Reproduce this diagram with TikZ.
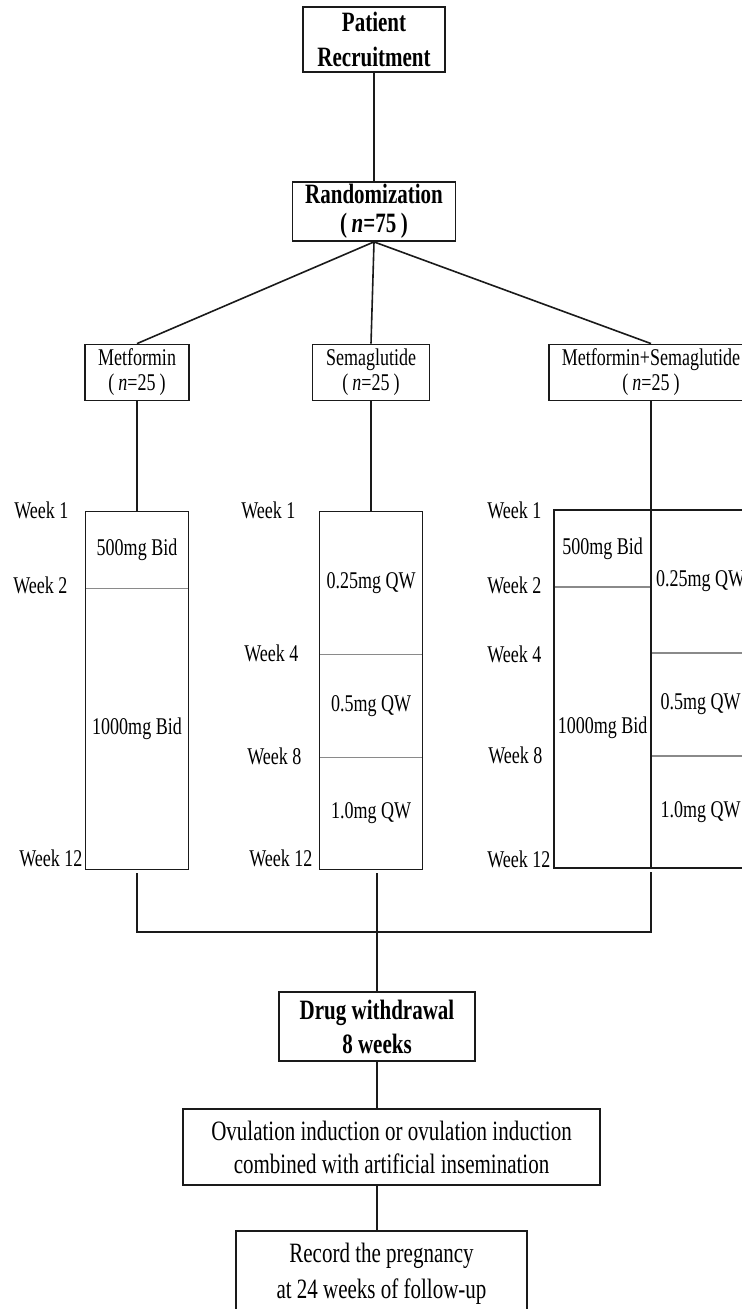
\documentclass[tikz,border=0pt]{standalone}
\usepackage{fontspec}
\setmainfont{Liberation Serif}[FakeStretch=0.75]
\usepackage{xcolor}
\definecolor{lineBlack}{HTML}{1A1A1A}
\definecolor{dividerGray}{HTML}{8A8A8A}
\usepackage{tikz}
\usetikzlibrary{
    positioning,
    calc
}
\tikzset{
    % Base style for all boxes
    flow base/.style={
        align=center,
        text=black,
        inner sep=1pt,
    },
    % Bold milestone boxes
    milestone/.style={
        flow base,
        rectangle,
        draw=lineBlack,
        line width=0.9pt,
        font=\fontsize{14}{17}\selectfont\bfseries,
    },
    % Treatment arm boxes
    arm/.style={
        flow base,
        rectangle,
        draw=lineBlack,
        line width=0.9pt,
        minimum height=28pt,
        font=\fontsize{12}{12.5}\selectfont,
    },
    % Dose segments stacked inside a column
    dose/.style={
        flow base,
        rectangle,
        draw=dividerGray,
        line width=0.9pt,
        outer sep=0pt,
        font=\fontsize{12}{14}\selectfont,
    },
    % Outline round a whole column
    column/.style={
        draw=lineBlack,
        line width=0.9pt,
    },
    % Week labels beside the columns
    week/.style={
        anchor=west,
        inner sep=0pt,
        font=\fontsize{12}{14}\selectfont,
    },
    % Follow-up boxes
    stage/.style={
        flow base,
        rectangle,
        draw=lineBlack,
        line width=0.9pt,
        font=\fontsize{14}{16.5}\selectfont,
    },
    % Plain connector, no arrow tip
    link/.style={
        draw=lineBlack,
        line width=0.8pt,
    },
}

\begin{document}
\begin{tikzpicture}[x=0.5pt, y=-0.5pt]
    \path [use as bounding box, fill=white] (0,0) rectangle (741,1309);

    \node (recruit) [milestone, minimum width=71pt, minimum height=32.5pt, font=\fontsize{14}{17.5}\selectfont\bfseries] at (374,39.5) {Patient\\Recruitment};
    \node (random) [milestone, minimum width=81.5pt, minimum height=29.5pt, font=\fontsize{14}{14.5}\selectfont\bfseries] at (374,211.5) {Randomization\\(\,\textit{n}=75\,)};

    % treatment arms
    \node (met) [arm, minimum width=52pt] at (137,372.5) {Metformin\\(\,\textit{n}=25\,)};
    \node (sema) [arm, minimum width=58.5pt] at (371,372.5) {Semaglutide\\(\,\textit{n}=25\,)};
    \node (combo) [arm, minimum width=102pt] at (651,372.5) {Metformin+Semaglutide\\(\,\textit{n}=25\,)};

    % Metformin column
    \node (m1) [dose, minimum width=51.5pt, minimum height=38.5pt, below=55pt of met] {500mg Bid};
    \node (m2) [dose, minimum width=51.5pt, minimum height=140.5pt, below=0pt of m1] {1000mg Bid};
    % Semaglutide column
    \node (s1) [dose, minimum width=51.5pt, minimum height=71.5pt, below=55pt of sema] {0.25mg QW};
    \node (s2) [dose, minimum width=51.5pt, minimum height=51.5pt, below=0pt of s1] {0.5mg QW};
    \node (s3) [dose, minimum width=51.5pt, minimum height=56pt, below=0pt of s2] {1.0mg QW};
    % combined column
    \node (cL1) [dose, minimum width=48.5pt, minimum height=38.5pt, anchor=north east] at (651,510) {500mg Bid};
    \node (cL2) [dose, minimum width=48.5pt, minimum height=140.5pt, below=0pt of cL1] {1000mg Bid};
    \node (cR1) [dose, minimum width=49.5pt, minimum height=71.5pt, anchor=north west] at (651,510) {0.25mg QW};
    \node (cR2) [dose, minimum width=49.5pt, minimum height=51.5pt, below=0pt of cR1] {0.5mg QW};
    \node (cR3) [dose, minimum width=49.5pt, minimum height=56pt, below=0pt of cR2] {1.0mg QW};

    \draw [column] (m1.north west) rectangle (m2.south east);
    \draw [column] (s1.north west) rectangle (s3.south east);
    \draw [column] (cL1.north west) rectangle (cL2.south east);
    \draw [column] (cR1.north west) rectangle (cR3.south east);

    % week labels
    \node (mw1) [week] at (14,510) {Week 1};
    \node (mw2) [week] at (13,585) {Week 2};
    \node (mw12) [week] at (19,858) {Week 12};
    \node (sw1) [week] at (241,510) {Week 1};
    \node (sw4) [week] at (244,653) {Week 4};
    \node (sw8) [week] at (247,756) {Week 8};
    \node (sw12) [week] at (249,858) {Week 12};
    \node (cw1) [week] at (487,510) {Week 1};
    \node (cw2) [week] at (487,585) {Week 2};
    \node (cw4) [week] at (487,654) {Week 4};
    \node (cw8) [week] at (488,755) {Week 8};
    \node (cw12) [week] at (487,859) {Week 12};

    \node (withdraw) [milestone, minimum width=98pt, minimum height=34.5pt] at (377,1026.5) {Drug withdrawal\\8 weeks};
    \node (ovul) [stage, minimum width=208.5pt, minimum height=38pt] at (391.5,1147) {Ovulation induction or ovulation induction\\combined with artificial insemination};
    \node (record) [stage, minimum width=145.5pt, minimum height=43pt, font=\fontsize{14}{18}\selectfont] at (381.5,1274) {Record the pregnancy\\at 24 weeks of follow-up};
    \coordinate (join) at (377,932);

    \draw [link] (recruit) -- (random);
    \draw [link] (random.south) -- (met.north);
    \draw [link] (random.south) -- (sema.north);
    \draw [link] (random.south) -- (combo.north);
    \draw [link] (met) -- (m1);
    \draw [link] (sema) -- (s1);
    \draw [link] (combo.south) -- (cL1.north east);
    \draw [link] ([yshift=-2pt]m2.south) |- (join);
    \draw [link] ([yshift=-2pt]cR3.south west) |- (join);
    \draw [link] ([xshift=3pt, yshift=-2pt]s3.south) -- (join) -- (join |- withdraw.north);
    \draw [link] (withdraw) -- (withdraw |- ovul.north);
    \draw [link] (withdraw |- ovul.south) -- (withdraw |- record.north);
\end{tikzpicture}
\end{document}
